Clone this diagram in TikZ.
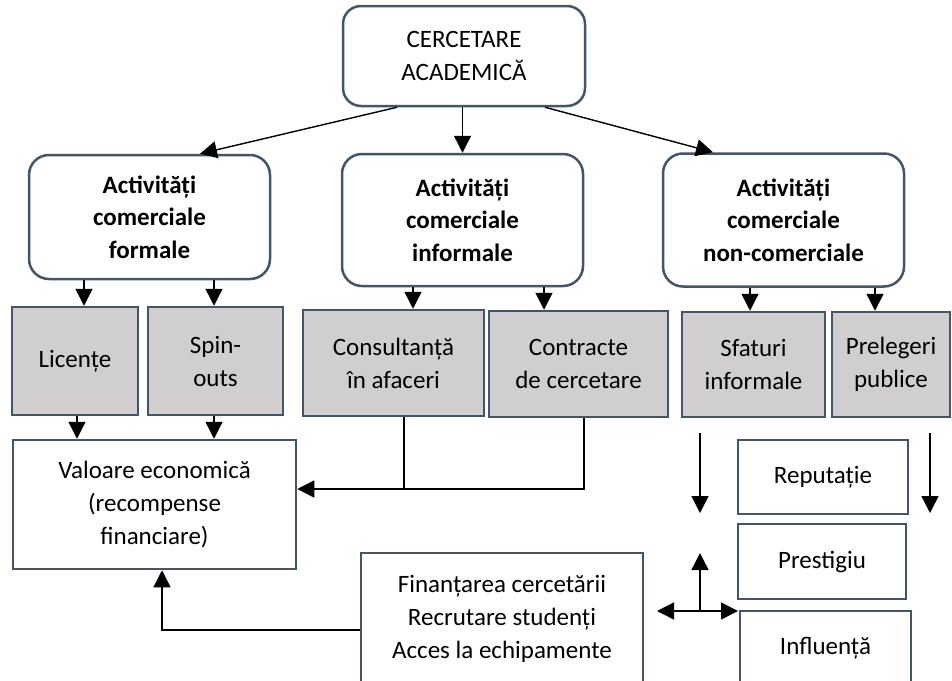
\documentclass[tikz,border=0pt]{standalone}
\usepackage{fontspec}
\setmainfont{Carlito}
\usepackage{xcolor}
\usetikzlibrary{calc,arrows.meta}
\definecolor{boxline}{HTML}{44546A}
\definecolor{boxgray}{HTML}{D0CECE}
\tikzset{
  box/.style={ % common look of every box
    draw=boxline, line width=2.5pt, align=center,
    text=black, inner sep=2pt,
    font=\fontsize{25}{33}\selectfont
  },
  root/.style={ % the research box on top
    box, rounded corners=18pt,
    minimum width=242pt, minimum height=100pt
  },
  group/.style={ % the three kinds of activities
    box, rounded corners=20pt, minimum width=241pt,
    font=\bfseries\fontsize{25}{32.5}\selectfont
  },
  item/.style={ % grey boxes of single activities
    box, fill=boxgray
  },
  result/.style={ % white boxes of outcomes
    box, fill=white
  },
  link/.style={
    -{Triangle[width=17pt,length=17pt]}, line width=1.4pt
  },
  bilink/.style={
    {Triangle[width=17pt,length=17pt]}-{Triangle[width=17pt,length=17pt]}, line width=1.4pt
  },
  wire/.style={line width=1.3pt}
}

\begin{document}
\begin{tikzpicture}[x=1pt,y=-1pt]
    \useasboundingbox (0,0) rectangle (952,680);

    \node[root] (root) at (464,56) {CERCETARE\\ACADEMICĂ};

    \node[group,minimum height=124pt] (formal) at (149.5,217) {Activități\\comerciale\\formale};
    \node[group,minimum height=132pt] (informal) at (462.5,220) {Activități\\comerciale\\informale};
    \node[group,minimum height=133pt] (noncom) at (783.5,220) {Activități\\comerciale\\non-comerciale};

    \node[item,minimum width=126pt,minimum height=108pt] (licente) at (75,361) {Licențe};
    \node[item,minimum width=135pt,minimum height=108pt] (spin) at (215.5,361) {Spin-\\outs};
    \node[item,minimum width=181pt,minimum height=106pt] (consult) at (393.5,363) {Consultanță\\în afaceri};
    \node[item,minimum width=179pt,minimum height=106pt] (contracte) at (578.5,364) {Contracte\\de cercetare};
    \node[item,minimum width=143pt,minimum height=105pt] (sfaturi) at (753.5,364.5) {Sfaturi\\informale};
    \node[item,minimum width=118pt,minimum height=105pt] (prelegeri) at (891,364.5) {Prelegeri\\publice};

    \node[result,minimum width=283pt,minimum height=129pt] (valoare) at (154.5,504.5) {Valoare economică\\(recompense\\financiare)};
    \node[result,minimum width=282pt,minimum height=132pt] (finant) at (502,619) {Finanțarea cercetării\\Recrutare studenți\\Acces la echipamente};
    \node[result,minimum width=170pt,minimum height=74pt] (reputatie) at (823,477) {Reputație};
    \node[result,minimum width=168pt,minimum height=75pt] (prestigiu) at (822,561.5) {Prestigiu};
    \node[result,minimum width=171pt,minimum height=74pt] (influenta) at (825.5,648) {Influență};

    % free ends on the right
    \coordinate (sfdrop) at (700,433);
    \coordinate (pldrop) at (930,433);
    \coordinate (hub) at (700,611);
    \coordinate (hubW) at (657,611);
    \coordinate (hubE) at (738,611);
    \coordinate (hubN) at (700,553);
    \coordinate (join) at ($(valoare.east)+(0,-15.5)$);

    \draw[link] ($(root.south)+(-67,0)$) -- ($(formal.north)+(50.5,0)$);
    \draw[link] (root.south -| informal.north) -- (informal.north);
    \draw[link] ($(root.south)+(81,0)$) -- ($(noncom.north)+(-70.5,0)$);

    \draw[link] ($(formal.south)+(-65.5,0)$) coordinate (f1) -- (f1 |- licente.north);
    \draw[link] ($(formal.south)+(64.5,0)$) coordinate (f2) -- (f2 |- spin.north);
    \draw[link] ($(informal.south)+(-49.5,0)$) coordinate (i1) -- (i1 |- consult.north);
    \draw[link] ($(informal.south)+(81.5,0)$) coordinate (i2) -- (i2 |- contracte.north);
    \draw[link] ($(noncom.south)+(-33.5,0)$) coordinate (n1) -- (n1 |- sfaturi.north);
    \draw[link] ($(noncom.south)+(91.5,0)$) coordinate (n2) -- (n2 |- prelegeri.north);

    \draw[link] ($(licente.south)+(2,0)$) coordinate (l1) -- (l1 |- valoare.north);
    \draw[link] ($(spin.south)+(-1.5,0)$) coordinate (s1) -- (s1 |- valoare.north);

    \draw[wire] ($(consult.south)+(10.5,0)$) coordinate (c1) -- (c1 |- join);
    \draw[link] ($(contracte.south)+(5.5,0)$) |- (join);
    \draw[link] ($(finant.west)+(0,11)$) -| ($(valoare.south)+(7.5,0)$);

    \draw[link] (sfdrop) -- ++(0,80);
    \draw[link] (pldrop) -- ++(0,80);
    \draw[bilink] (hubW) -- (hubE);
    \draw[link] (hub) -- (hubN);
\end{tikzpicture}
\end{document}
